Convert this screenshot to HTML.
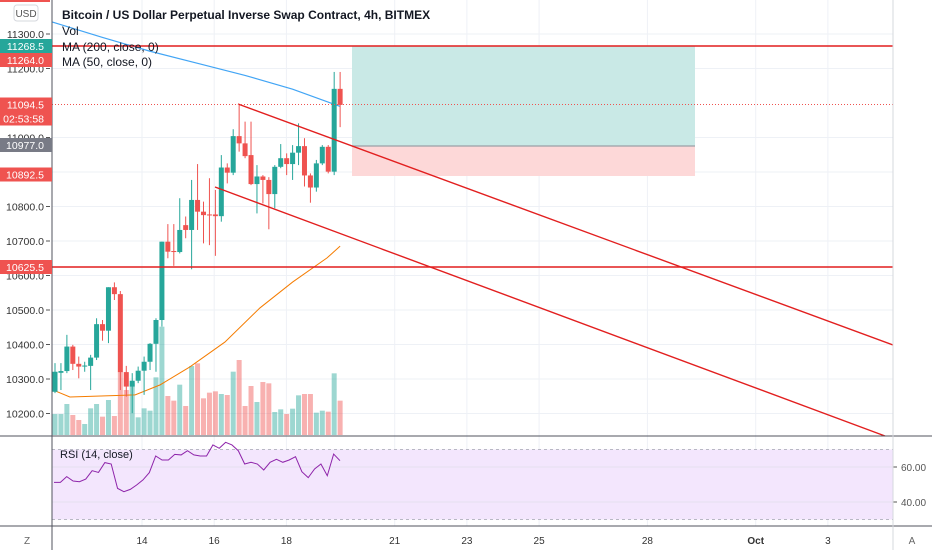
<!DOCTYPE html>
<html><head><meta charset="utf-8"><style>
body{margin:0;background:#fff;}
svg{display:block;font-family:"Liberation Sans",sans-serif;}
</style></head><body>
<svg id="c" width="932" height="550" viewBox="0 0 932 550">
<g id="grid"></g>
<rect x="352" y="46" width="343" height="100" fill="#c9e9e6"/>
<rect x="352" y="146" width="343" height="30" fill="#fdd8d8"/>
<line x1="352" y1="146" x2="695" y2="146" stroke="#9aa0a6" stroke-width="1.2"/>
<g id="vol"></g>
<g id="ma"></g>
<g id="candles"></g>
<g id="draw"></g>
<g id="rsi"></g>
<g id="axes"></g>
<g id="labels"></g>
<g font-size="12" fill="#131722">
<text x="62" y="19" font-weight="bold">Bitcoin / US Dollar Perpetual Inverse Swap Contract, 4h, BITMEX</text>
<text x="62" y="35">Vol</text>
<text x="62" y="51">MA (200, close, 0)</text>
<text x="62" y="66">MA (50, close, 0)</text>
<text x="60" y="458" font-size="11">RSI (14, close)</text>
</g>
</svg>
<script>
const opens=[10263,10318,10323,10394,10344,10336,10338,10362,10459,10440,10566,10546,10320,10278,10295,10324,10350,10402,10471,10698,10671,10668,10746,10732,10819,10785,10777,10777,10772,10913,10898,11004,10983,10949,10865,10887,10877,10836,10915,10940,10923,10956,10975,10890,10855,10925,10973,10901,11141];
const closes=[10321,10323,10394,10344,10336,10339,10362,10459,10440,10566,10546,10320,10278,10295,10324,10350,10402,10471,10698,10669,10668,10732,10732,10819,10785,10775,10774,10772,10913,10898,11004,10983,10946,10865,10887,10877,10836,10915,10940,10923,10956,10975,10890,10855,10925,10973,10901,11141,11094.5];
const highs=[10346,10346,10428,10399,10365,10350,10370,10476,10471,10566,10580,10555,10338,10317,10336,10365,10404,10476,10698,10749,10749,10824,10771,10877,10923,10814,10882,10848,10949,10925,11024,11094,11046,11046,10920,10891,10885,10920,10981,10954,10978,11041,10998,10896,10935,10978,10978,11190,11190];
const lows=[10259,10268,10317,10326,10302,10321,10268,10355,10411,10404,10529,10268,10249,10201,10288,10254,10326,10321,10452,10650,10628,10664,10708,10618,10732,10693,10688,10657,10756,10867,10891,10959,10940,10862,10780,10809,10734,10795,10911,10891,10877,10920,10858,10811,10843,10920,10896,10891,11030];
const volumes=[63,63,93,60,45,33,80,93,55,105,57,190,135,155,53,80,73,173,325,117,103,151,87,207,215,110,127,131,123,120,190,225,87,147,99,159,155,69,77,63,79,119,123,123,67,73,70,185,103];
const ma200Idx=[-0.5,8,16,24,32,40,48];
const ma200=[11335,11290,11250,11215,11180,11140,11090];
const ma50Idx=[-0.3,2.5,13.5,17.7,22.7,28.6,34.5,40,45.8,48];
const ma50=[10268,10248,10254,10283,10335,10407,10506,10581,10651,10685];
const rsi=[51.2,51.2,54.5,52.0,51.6,53.1,57.9,56.9,62.5,61.7,47.8,45.9,47.2,49.7,52.6,56.8,66.3,64.0,64.0,67.2,66.9,69.3,66.9,66.3,66.3,72.6,70.7,74.1,72.6,69.3,61.7,62.7,61.7,58.3,62.7,64.4,62.7,64.0,65.9,57.3,53.9,58.9,61.7,55.0,67.4,63.6];
const priceTicks=[11300,11200,11000,10900,10800,10700,10600,10500,10400,10300,10200];
const dayLabels=["14","16","18","21","23","25","28","Oct","3"];
const dayOffsets=[0,2,4,7,9,11,14,17,19];
const rsiTicks=[60,40];

const NS="http://www.w3.org/2000/svg";
function el(t,a,p){const e=document.createElementNS(NS,t);for(const k in a)e.setAttribute(k,a[k]);p.appendChild(e);return e;}
const y=p=>137.5-(p-11000)*0.345;
const x=i=>55+i*5.94;
const dx=d=>142+d*36.1;
const vy=v=>435-v/3;
const ry=r=>467-(r-60)*35/20;
const G=id=>document.getElementById(id);

// grid
const g=G('grid');
priceTicks.forEach(p=>{const l=el('line',{x1:52,x2:893,y1:y(p),y2:y(p),stroke:'#eef1f6'},g);

});
dayOffsets.forEach(d=>{const l=el('line',{x1:dx(d),x2:dx(d),y1:0,y2:526,stroke:'#eef1f6'},g);

});

// volume
const vg=G('vol');
volumes.forEach((v,i)=>{const up=closes[i]>=opens[i];
const r=el('rect',{x:x(i)-2.5,y:vy(v),width:5,height:435-vy(v),fill:up?'rgba(38,166,154,0.45)':'rgba(239,83,80,0.45)'},vg);

});

// MAs
const mg=G('ma');
const m2=el('polyline',{points:ma200.map((v,i)=>x(ma200Idx[i])+','+y(v)).join(' '),fill:'none',stroke:'#42a5f5','stroke-width':1.2},mg);


const m5=el('polyline',{points:ma50.map((v,i)=>x(ma50Idx[i])+','+y(v)).join(' '),fill:'none',stroke:'#f57c00','stroke-width':1},mg);



// candles
const cg=G('candles');
opens.forEach((o,i)=>{const c=closes[i],up=c>=o,col=up?'#26a69a':'#ef5350';
const w=el('line',{x1:x(i),x2:x(i),y1:y(highs[i]),y2:y(lows[i]),stroke:col,'stroke-width':1},cg);


const top=Math.min(y(o),y(c)),h=Math.max(1,Math.abs(y(o)-y(c)));
const b=el('rect',{x:x(i)-2.5,y:top,width:5,height:h,fill:col},cg);

});

// drawings
const dg=G('draw');
[[52,46,893,46,'resistance-line'],[52,267,893,267,'support-line'],[238,104,893,345,'channel-upper'],[215,187,885,436,'channel-lower']].forEach(a=>{
const l=el('line',{x1:a[0],y1:a[1],x2:a[2],y2:a[3],stroke:'#e21f1f','stroke-width':1.4},dg);

});
const dl=el('line',{x1:52,x2:893,y1:104.5,y2:104.5,stroke:'#ef5350','stroke-width':1,'stroke-dasharray':'1 2'},dg);



// RSI
const rg=G('rsi');
el('rect',{x:52,y:ry(70),width:841,height:ry(30)-ry(70),fill:'#f3e6fd'},rg);
[70,30].forEach(v=>{const l=el('line',{x1:52,x2:893,y1:ry(v),y2:ry(v),stroke:'#b8b8c4','stroke-dasharray':'3 3'},rg);

});
rsiTicks.forEach(v=>{el('line',{x1:52,x2:893,y1:ry(v),y2:ry(v),stroke:'#e6e0ee'},rg);
const t=el('text',{x:901,y:ry(v)+4,'font-size':10,fill:'#555'},rg);t.textContent=v.toFixed(2);


el('line',{x1:893,x2:897,y1:ry(v),y2:ry(v),stroke:'#555'},rg);});
const rl=el('polyline',{points:rsi.map((v,i)=>(54+i*(340-54)/(rsi.length-1))+','+ry(v)).join(' '),fill:'none',stroke:'#8e24aa','stroke-width':1},rg);



// axes
const ag=G('axes');
el('line',{x1:52,x2:52,y1:0,y2:550,stroke:'#50535e'},ag);
el('line',{x1:0,x2:932,y1:436,y2:436,stroke:'#50535e'},ag);
el('line',{x1:0,x2:932,y1:526,y2:526,stroke:'#50535e'},ag);
el('line',{x1:893,x2:893,y1:0,y2:550,stroke:'#d6d8de'},ag);
priceTicks.forEach(p=>{const t=el('text',{x:44,y:y(p)+4,'font-size':10.5,fill:'#333','text-anchor':'end'},ag);t.textContent=p.toFixed(1);


el('line',{x1:46,x2:50,y1:y(p),y2:y(p),stroke:'#555'},ag);});
dayLabels.forEach((d,i)=>{const t=el('text',{x:dx(dayOffsets[i]),y:544,'font-size':10,fill:'#333','text-anchor':'middle','font-weight':d==='Oct'?'bold':'normal'},ag);t.textContent=d;

});
[[27,'Z','timezone-button'],[912,'A','auto-scale-button']].forEach(a=>{const t=el('text',{x:a[0],y:544,'font-size':10,fill:'#666','text-anchor':'middle'},ag);t.textContent=a[1];

});
el('rect',{x:0,y:0,width:50,height:2,fill:'#ef5350'},ag);
const ub=el('rect',{x:14,y:5,width:24,height:16,rx:3,fill:'#fff',stroke:'#d6d8de'},ag);


const ut=el('text',{x:26,y:17,'font-size':10,fill:'#555','text-anchor':'middle'},ag);ut.textContent='USD';

// price labels
const lg=G('labels');
[[46,'11268.5','#26a69a'],[60,'11264.0','#ef5350'],[104.5,'11094.5','#ef5350'],[118.5,'02:53:58','#ef5350'],[145,'10977.0','#787b86'],[174.5,'10892.5','#ef5350'],[267,'10625.5','#ef5350']].forEach(a=>{
const r=el('rect',{x:0,y:a[0]-7,width:52,height:14,fill:a[2]},lg);


const t=el('text',{x:44,y:a[0]+4,'font-size':10.5,fill:'#fff','text-anchor':'end'},lg);t.textContent=a[1];

});
</script>
</body></html>
